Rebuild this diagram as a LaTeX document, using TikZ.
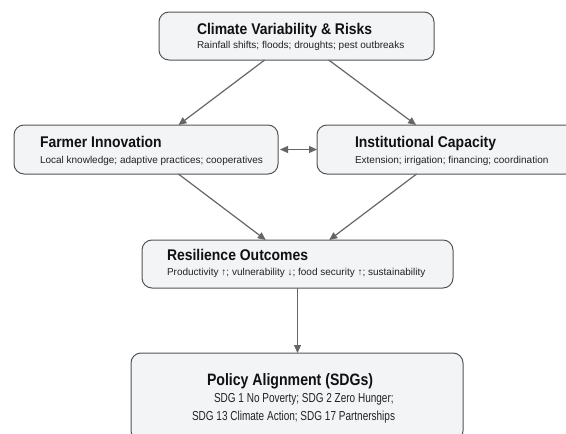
\documentclass[tikz,border=0pt]{standalone}
\usepackage{fontspec}
\setmainfont{Liberation Sans}
\usepackage{graphicx}
\usetikzlibrary{arrows.meta}
\definecolor{boxfill}{HTML}{F3F4F6}
\definecolor{boxline}{HTML}{555555}
\definecolor{arrowgray}{HTML}{666666}
\definecolor{titlecol}{HTML}{111111}
\definecolor{subcol}{HTML}{222222}
\newcommand{\bxtitle}[1]{\scalebox{0.9}[1]{\fontsize{15.5}{18}\selectfont\bfseries #1}}
\newcommand{\bxsub}[1]{{\fontsize{10}{12}\selectfont #1}}
\newcommand{\pltitle}[1]{\scalebox{0.855}[1]{\fontsize{16.5}{19}\selectfont\bfseries #1}}
\newcommand{\plsub}[1]{\scalebox{0.77}[1]{\fontsize{13}{15}\selectfont #1}}
\begin{document}
\begin{tikzpicture}[x=1pt,y=-1pt,
  box/.style={draw=boxline, line width=1pt, fill=boxfill, rounded corners=10pt, inner sep=0pt, outer sep=0pt},
  txt/.style={anchor=base west, inner sep=0pt, outer sep=0pt},
  ttl/.style={txt, text=titlecol},
  sub/.style={txt, text=subcol},
  arr/.style={draw=arrowgray, line width=1.2pt, -{Triangle[length=8pt,width=7pt]}},
  darr/.style={draw=arrowgray, line width=1.2pt, {Triangle[length=8pt,width=7pt]}-{Triangle[length=8pt,width=7pt]}}]
\useasboundingbox (0,0) rectangle (566,434);
\clip (0,0) rectangle (566,434);
% boxes
\node[box, minimum width=275pt, minimum height=48pt] (clim) at (296.5,36) {};
\node[box, minimum width=264pt, minimum height=49pt] (farm) at (146,149.5) {};
\node[box, minimum width=264pt, minimum height=49pt] (inst) at (449,149.5) {};
\node[box, minimum width=311pt, minimum height=48pt] (res) at (297.5,264) {};
\node[box, minimum width=332pt, minimum height=88pt] (pol) at (297,397) {};
% texts
\node[ttl] (climT) at (197,34.3) {\bxtitle{Climate Variability \& Risks}};
\node[sub] (climS) at (197,48.3) {\bxsub{Rainfall shifts; floods; droughts; pest outbreaks}};
\node[ttl] (farmT) at (40,147.3) {\bxtitle{Farmer Innovation}};
\node[sub] (farmS) at (40,163.5) {\bxsub{Local knowledge; adaptive practices; cooperatives}};
\node[ttl] (instT) at (355,147.3) {\bxtitle{Institutional Capacity}};
\node[sub] (instS) at (355,163.8) {\bxsub{Extension; irrigation; financing; coordination}};
\node[ttl] (resT) at (167,260.7) {\bxtitle{Resilience Outcomes}};
\node[sub] (resS) at (167,275.5) {\bxsub{Productivity ↑; vulnerability ↓; food security ↑; sustainability}};
\node[ttl] (polT) at (207,385) {\pltitle{Policy Alignment (SDGs)}};
\node[sub] (polS1) at (214,402) {\plsub{SDG 1 No Poverty; SDG 2 Zero Hunger;}};
\node[sub] (polS2) at (192,420) {\plsub{SDG 13 Climate Action; SDG 17 Partnerships}};
% connectors
\draw[arr] (clim) -- (farm);
\draw[arr] (clim) -- (inst);
\draw[darr, shorten <=2pt] (farm.east) -- (inst.west);
\draw[arr] (farm) -- (res);
\draw[arr] (inst) -- (res);
\draw[arr] (res.south) -- (res.south |- pol.north);
\end{tikzpicture}
\end{document}
